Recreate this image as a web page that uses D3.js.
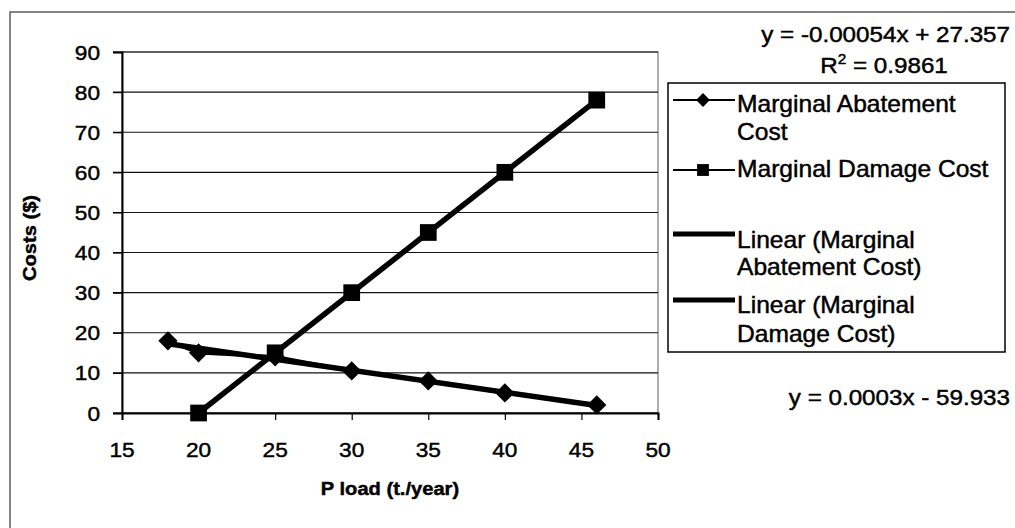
<!DOCTYPE html>
<html>
<head>
<meta charset="utf-8">
<script src="https://cdn.jsdelivr.net/npm/d3@7"></script>
<style>
  body { margin: 0; background: #fff; }
  svg { display: block; font-family: "Liberation Sans", Arial, sans-serif; }
  text { stroke: #000; stroke-width: 0.45px; }
</style>
</head>
<body>
<svg id="chart" width="1015" height="528"></svg>
<script>
// data
const abateX = [18, 20, 25, 30, 35, 40, 46];
const abateY = [18, 15, 14, 10.5, 8, 5, 2];
const damageX = [20, 25, 30, 35, 40, 46];
const damageY = [0, 15, 30, 45, 60, 78];
const xTicks = [15, 20, 25, 30, 35, 40, 45, 50];
const yTicks = [0, 10, 20, 30, 40, 50, 60, 70, 80, 90];
const legendLabels = [
  ['Marginal Abatement', 'Cost'],
  ['Marginal Damage Cost'],
  ['Linear (Marginal', 'Abatement Cost)'],
  ['Linear (Marginal', 'Damage Cost)']
];
const eqAbate = ['y = -0.00054x + 27.357', '0.9861'];
const eqDamage = 'y = 0.0003x - 59.933';

const svg = d3.select('#chart');
const x = d3.scaleLinear().domain([15, 50]).range([122, 658]);
const y = d3.scaleLinear().domain([0, 90]).range([413, 52]);

// scanned text is a bit wider than the font
function label(g, px, py, str, opts = {}) {
  const t = g.append('text')
    .attr('transform', `translate(${px},${py}) scale(${opts.sx || 1.08},1)`)
    .attr('font-size', opts.size || 21)
    .attr('font-weight', opts.bold ? 'bold' : null)
    .attr('text-anchor', opts.anchor || 'start')
    .attr('fill', '#000')
    .text(str);
  return t;
}

// outer chart frame
svg.append('rect')
  .attr('x', 10).attr('y', 12).attr('width', 1100).attr('height', 600)
  .attr('fill', 'none').attr('stroke', '#333').attr('stroke-width', 1.2);

// plot area border (right / top)
svg.append('rect')
  .attr('x', x(15)).attr('y', y(90))
  .attr('width', x(50) - x(15)).attr('height', y(0) - y(90))
  .attr('fill', 'none').attr('stroke', '#777').attr('stroke-width', 1.2);

// gridlines
svg.append('g').selectAll('line').data(yTicks).join('line')
  .attr('x1', x(15) - 9).attr('x2', x(50))
  .attr('y1', d => y(d)).attr('y2', d => y(d))
  .attr('stroke', '#111').attr('stroke-width', 1.1);

// axes
const yAxis = svg.append('g').attr('transform', `translate(${x(15)},0)`)
  .call(d3.axisLeft(y).tickValues(yTicks).tickSize(9).tickFormat(''));
const xAxis = svg.append('g').attr('transform', `translate(0,${y(0)})`)
  .call(d3.axisBottom(x).tickValues(xTicks).tickSize(7).tickFormat(''));
[yAxis, xAxis].forEach(a => {
  a.select('.domain').attr('stroke', '#000').attr('stroke-width', 2);
  a.selectAll('.tick line').attr('stroke', '#000').attr('stroke-width', 1.2);
});

const labels = svg.append('g');
yTicks.forEach(v => label(labels, 100, y(v) + 7.5, String(v), { anchor: 'end', size: 21, sx: 1.08 }));
xTicks.forEach(v => label(labels, x(v), 457, String(v), { anchor: 'middle', size: 21, sx: 1.08 }));

label(labels, 390, 495, 'P load (t./year)', { anchor: 'middle', size: 19, bold: true, sx: 1.06 });
svg.append('text')
  .attr('transform', 'translate(36,238) rotate(-90) scale(1.06,1)')
  .attr('font-size', 19).attr('font-weight', 'bold').attr('text-anchor', 'middle')
  .text('Costs ($)');

// linear fits from the data
function fit(xs, ys) {
  const mx = d3.mean(xs), my = d3.mean(ys);
  const sxy = d3.sum(xs, (v, i) => (v - mx) * (ys[i] - my));
  const sxx = d3.sum(xs, v => (v - mx) * (v - mx));
  const b = sxy / sxx;
  return { b, a: my - b * mx };
}
const trends = [[abateX, abateY], [damageX, damageY]].map(([xs, ys]) => {
  const f = fit(xs, ys);
  const ext = d3.extent(xs);
  return ext.map(v => [v, f.a + f.b * v]);
});

const line = d3.line().x(d => x(d[0])).y(d => y(d[1]));
const plot = svg.append('g');

const abate = abateX.map((v, i) => [v, abateY[i]]);
const damage = damageX.map((v, i) => [v, damageY[i]]);

plot.selectAll('path.series').data([abate, damage]).join('path')
  .attr('class', 'series')
  .attr('d', line).attr('fill', 'none')
  .attr('stroke', '#000').attr('stroke-width', 3.5).attr('stroke-linejoin', 'round');

plot.selectAll('path.trend').data(trends).join('path')
  .attr('class', 'trend')
  .attr('d', line).attr('fill', 'none')
  .attr('stroke', '#000').attr('stroke-width', 5.5);

const diamond = d3.symbol(d3.symbolSquare, 185);
const square = d3.symbol(d3.symbolSquare, 280);

plot.selectAll('path.dia').data(abate).join('path')
  .attr('class', 'dia')
  .attr('d', diamond)
  .attr('transform', d => `translate(${x(d[0])},${y(d[1])}) rotate(45)`)
  .attr('fill', '#000');

plot.selectAll('path.sq').data(damage).join('path')
  .attr('class', 'sq')
  .attr('d', square)
  .attr('transform', d => `translate(${x(d[0])},${y(d[1])})`)
  .attr('fill', '#000');

// legend
const leg = svg.append('g');
leg.append('rect')
  .attr('x', 668).attr('y', 83).attr('width', 337).attr('height', 269)
  .attr('fill', '#fff').attr('stroke', '#000').attr('stroke-width', 1.5);

const sampleY = [100, 170, 234, 300];
const textY = [[112, 140], [177], [248, 275], [313, 342]];
legendLabels.forEach((lines, i) => {
  const thick = i >= 2;
  leg.append('line')
    .attr('x1', 673).attr('x2', 735)
    .attr('y1', sampleY[i]).attr('y2', sampleY[i])
    .attr('stroke', '#000').attr('stroke-width', thick ? 5 : 2);
  if (i === 0) {
    leg.append('path').attr('d', d3.symbol(d3.symbolSquare, 95))
      .attr('transform', `translate(703,${sampleY[i]}) rotate(45)`);
  } else if (i === 1) {
    leg.append('path').attr('d', d3.symbol(d3.symbolSquare, 140))
      .attr('transform', `translate(703,${sampleY[i]})`);
  }
  lines.forEach((s, j) => label(leg, 737, textY[i][j], s, { size: 23, sx: 1.07 }));
});

// fit equations
const eq = svg.append('g');
label(eq, 1010, 42, eqAbate[0], { anchor: 'end', size: 22, sx: 1.1 });
const r2 = eq.append('text')
  .attr('transform', 'translate(884,73) scale(1.1,1)')
  .attr('font-size', 22).attr('text-anchor', 'middle');
r2.append('tspan').text('R');
r2.append('tspan').attr('font-size', 14).attr('dy', -9).text('2');
r2.append('tspan').attr('dy', 9).text(' = ' + eqAbate[1]);
label(eq, 1010, 405, eqDamage, { anchor: 'end', size: 22, sx: 1.1 });
</script>
</body>
</html>
